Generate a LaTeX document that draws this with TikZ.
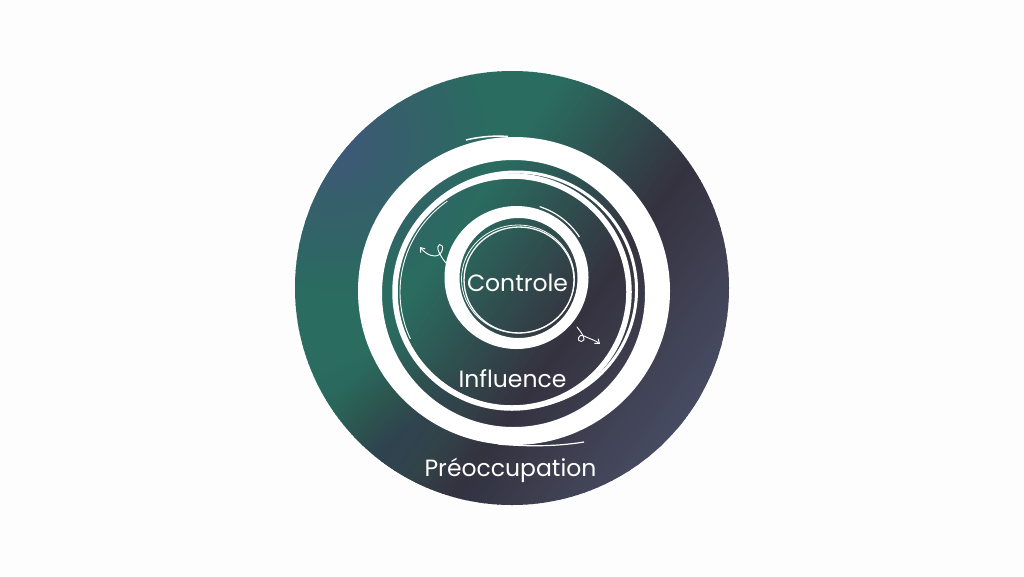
\documentclass[tikz,border=0pt]{standalone}
\usepackage{fontspec}
\setmainfont{Poppins}
\usetikzlibrary{arrows.meta}
\definecolor{pagebg}{HTML}{FDFDFD}
\definecolor{basedark}{HTML}{35323F}
\definecolor{tealc}{HTML}{2A6C60}
\definecolor{bluec}{HTML}{44567E}
\definecolor{greyblue}{HTML}{4A5069}
\definecolor{lowleft}{HTML}{33434F}
\tikzset{
  label text/.style={text=white, font=\fontsize{23.5}{28}\selectfont, inner sep=0pt, anchor=base},
  brush/.style={draw=white, line width=#1},
  squiggle/.style={draw=white, line width=0.9pt, -{Straight Barb[length=4pt,width=6pt]}, line cap=round}
}
\begin{document}
\begin{tikzpicture}[x=1pt,y=-1pt]
\useasboundingbox[fill=pagebg] (0,0) rectangle (1024,576);
% main disc with gradient
\begin{scope}
\clip (512,288) circle (217);
\foreach \s in {-300,-296,...,300} {
  \pgfmathsetmacro\pa{max(0,min(100,(70-\s)/150*100))}
  \pgfmathsetmacro\pb{max(0,min(100,(\s-70)/170*100))}
  \colorlet{stripA}{tealc!\pa!basedark}
  \colorlet{stripB}{greyblue!\pb!stripA}
  \fill[stripB] ({512+\s*0.8192+300*0.5736},{288+\s*0.5736-300*0.8192})
    -- ({512+(\s+5)*0.8192+300*0.5736},{288+(\s+5)*0.5736-300*0.8192})
    -- ({512+(\s+5)*0.8192-300*0.5736},{288+(\s+5)*0.5736+300*0.8192})
    -- ({512+\s*0.8192-300*0.5736},{288+\s*0.5736+300*0.8192}) -- cycle;
}
\foreach \j in {20,...,1} {\fill[bluec, opacity={0.92/(20-0.92*(20-\j))}] (335,140) circle ({150*\j/20});}
\foreach \j in {20,...,1} {\fill[lowleft, opacity={0.45/(20-0.45*(20-\j))}] (390,475) circle ({120*\j/20});}
\end{scope}
% outer thick brush ring
\fill[white, even odd rule] (514,291) ellipse (156 and 154) (513.5,293.5) ellipse (131.5 and 133.5);
\draw[brush=1.5pt] (466,140) .. controls (480,136.5) and (495,135.5) .. (508,136.5);
\draw[brush=1.2pt] (498,444) .. controls (530,447) and (560,446) .. (584,442);
% middle ring
\draw[brush=5.5pt] (512,292) ellipse (117 and 116);
\draw[brush=3pt] (516,290) ellipse (120.5 and 118);
\draw[brush=0.9pt, shift={(511,292)}] (155:111 and 111) arc[start angle=155, end angle=235, x radius=111, y radius=111];
% inner thick ring
\fill[white, even odd rule] (516.5,277.5) ellipse (72 and 71.5) (518.5,278) ellipse (59 and 60);
\draw[brush=1.2pt, shift={(516.5,277.5)}] (-72:75 and 74.5) arc[start angle=-72, end angle=-33, x radius=75, y radius=74.5];
% thin inner circle
\draw[brush=1.3pt] (519,280) ellipse (55 and 53);
\draw[brush=0.8pt] (518,279) ellipse (56.5 and 54);
% squiggly arrows
\coordinate (a1s) at (446,263);
\coordinate (a1e) at (420,247);
\coordinate (a2s) at (577,327);
\coordinate (a2e) at (600,344);
\draw[squiggle] (a1s) .. controls (440,256) and (435,246) .. (439.5,244.5) .. controls (445,243.5) and (443,256) .. (435,256) .. controls (429,256) and (424,252) .. (a1e);
\draw[squiggle] (a2s) .. controls (582,333) and (587,341) .. (581.5,341.5) .. controls (576,342) and (578,333) .. (584,336) .. controls (590,339) and (595,340) .. (a2e);
% labels
\node[label text] (controle) at (517.5,291) {Controle};
\node[label text] (influence) at (512.5,387) {Influence};
\node[label text] (preocc) at (510.5,476.5) {Préoccupation};
\end{tikzpicture}
\end{document}
